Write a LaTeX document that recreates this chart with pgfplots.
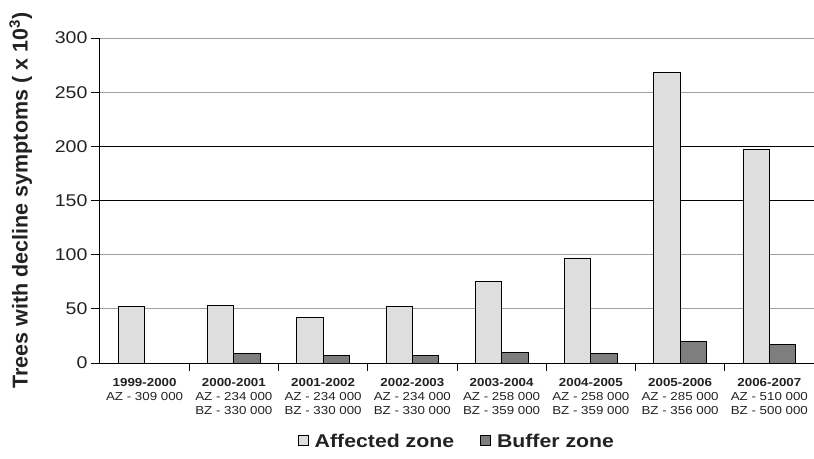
\documentclass[border=0pt]{standalone}
\usepackage{fontspec}
\setmainfont{Liberation Sans}[FakeStretch=1.15]
\newfontfamily\ylabfont{Liberation Sans}
\usepackage{pgfplots}
\pgfplotsset{compat=1.18}
\definecolor{afz}{HTML}{DEDEDE}
\definecolor{bfz}{HTML}{7E7E7E}
\definecolor{txt}{HTML}{222222}

\begin{document}
\begin{tikzpicture}
\useasboundingbox (-100pt,-95pt) rectangle (714pt,363pt);
\begin{axis}[
  scale only axis, width=714pt, height=325pt,
  xmin=-0.5, xmax=7.5, ymin=0, ymax=300,
  /pgf/number format/assume math mode=true,
  axis lines*=left,
  axis line style={black, line width=1pt},
  ybar, bar width=0.296,
  xtick={0,...,7},
  xticklabels={
    {\textbf{1999-2000}\\AZ - 309 000},
    {\textbf{2000-2001}\\AZ - 234 000\\BZ - 330 000},
    {\textbf{2001-2002}\\AZ - 234 000\\BZ - 330 000},
    {\textbf{2002-2003}\\AZ - 234 000\\BZ - 330 000},
    {\textbf{2003-2004}\\AZ - 258 000\\BZ - 359 000},
    {\textbf{2004-2005}\\AZ - 258 000\\BZ - 359 000},
    {\textbf{2005-2006}\\AZ - 285 000\\BZ - 356 000},
    {\textbf{2006-2007}\\AZ - 510 000\\BZ - 500 000}},
  xticklabel style={align=center, font=\fontsize{11.6}{14}\selectfont, text=txt, anchor=north, yshift=-3pt},
  major x tick style={draw=none},
  minor xtick={0.5,1.5,...,6.5},
  minor tick length=8pt,
  minor x tick style={black, line width=0.9pt},
  tick align=outside,
  ytick={0,50,100,250,300},
  extra y ticks={150,200},
  extra y tick style={grid=major, major grid style={black, line width=1.4pt}},
  ymajorgrids,
  major grid style={gray!75, line width=0.9pt},
  major tick length=9pt,
  major y tick style={black, line width=0.9pt},
  yticklabel style={font=\fontsize{17}{20}\selectfont, text=txt},
  ylabel={\ylabfont\bfseries Trees with decline symptoms ( x 10\textsuperscript{3})},
  ylabel style={font=\fontsize{21.5}{24}\selectfont, text=txt, yshift=-2pt},
  legend style={at={(0.5,-0.205)}, anchor=north, draw=none, fill=none,
    legend columns=2, font=\bfseries\fontsize{18.5}{22}\selectfont, text=txt,
    /tikz/every even column/.append style={column sep=24pt},
    /tikz/every odd column/.append style={column sep=4pt}},
  legend image code/.code={\draw[#1, line width=0.8pt] (0pt,-4.5pt) rectangle (10pt,5.5pt);},
]
\addplot[bar shift=-0.148, fill=afz, draw=black, line width=0.8pt] coordinates {
  (0,52) (1,53) (2,42) (3,52) (4,75) (5,97) (6,268) (7,197)};
\addlegendentry{Affected zone}
\addplot[bar shift=0.148, fill=bfz, draw=black, line width=0.8pt] coordinates {
  (1,8.5) (2,7) (3,7) (4,9.5) (5,8.5) (6,20) (7,17)};
\addlegendentry{Buffer zone}
\end{axis}
\end{tikzpicture}
\end{document}
